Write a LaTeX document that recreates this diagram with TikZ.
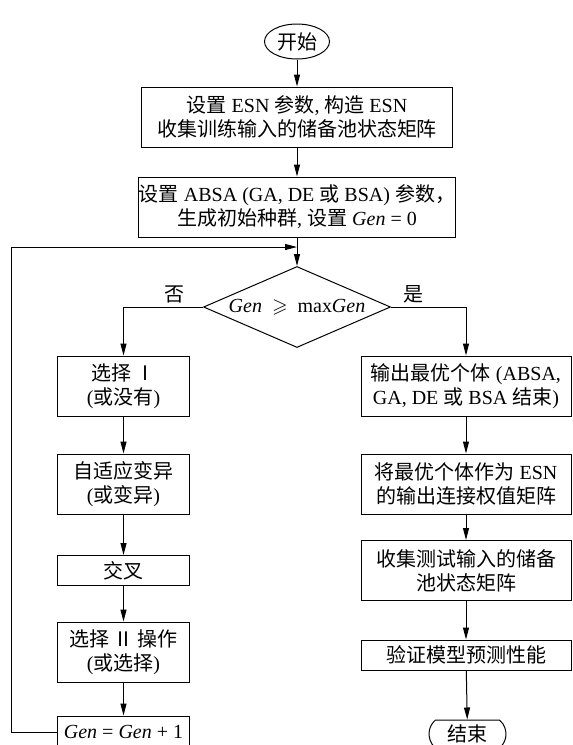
\documentclass[tikz,border=0pt]{standalone}
\usepackage{amssymb}
\usepackage{fontspec}
\setmainfont{Liberation Serif}
\newfontfamily\cjk{Noto Sans CJK SC}
\newcommand{\zh}[1]{{\cjk #1}}
\usetikzlibrary{shapes.geometric}
\usetikzlibrary{shapes.misc}
\usetikzlibrary{arrows.meta}

\begin{document}
\begin{tikzpicture}[x=1pt,y=-1pt,line width=1pt,
  >={Triangle[length=12pt,width=6pt]},
  every node/.style={font=\fontsize{20}{24}\selectfont,align=center,inner sep=0pt},
  box/.style={draw,rectangle,minimum height=60pt},
  mainbox/.style={box,minimum width=311pt},
  leftbox/.style={box,minimum width=132pt},
  rightbox/.style={box,minimum width=210pt},
  thinbox/.style={minimum height=30pt}]
  \useasboundingbox (0,0) rectangle (573,745);
  \node[draw,ellipse,minimum width=65pt,minimum height=35pt] (start) at (297,41.5) {\zh{开始}};
  \node[mainbox] (esn) at (297,117) {\zh{设置} ESN \zh{参数}, \zh{构造} ESN\\\zh{收集训练输入的储备池状态矩阵}};
  \node[mainbox] (absa) at (297,207) {\zh{设置} ABSA (GA, DE \zh{或} BSA) \zh{参数，}\\\zh{生成初始种群}, \zh{设置} \textit{Gen} = 0};
  \node[draw,diamond,aspect=2.3,minimum width=187pt,minimum height=81pt] (cond) at (297,307)
    {\textit{Gen}~~$\geqslant$~~max\textit{Gen}};
  \node[leftbox] (sel1) at (123.5,386) {\zh{选择 Ⅰ}\\(\zh{或没有})};
  \node[leftbox] (mut) at (123.5,484) {\zh{自适应变异}\\(\zh{或变异})};
  \node[leftbox,thinbox] (cross) at (123.5,570.5) {\zh{交叉}};
  \node[leftbox] (sel2) at (123.5,652) {\zh{选择 Ⅱ 操作}\\(\zh{或选择})};
  \node[leftbox,minimum height=32pt] (gen) at (123.5,732) {\textit{Gen} = \textit{Gen} + 1};
  \node[rightbox] (best) at (466,386) {\zh{输出最优个体} (ABSA,\\GA, DE \zh{或} BSA \zh{结束})};
  \node[rightbox] (weight) at (466,484) {\zh{将最优个体作为} ESN\\\zh{的输出连接权值矩阵}};
  \node[rightbox] (test) at (466,570.5) {\zh{收集测试输入的储备}\\\zh{池状态矩阵}};
  \node[rightbox,thinbox] (eval) at (466,655) {\zh{验证模型预测性能}};
  \node[draw,rounded rectangle,rounded rectangle arc length=100,minimum width=77pt,minimum height=28pt] (stop) at (467.5,734) {\zh{结束}};
  \coordinate (back) at (11,247);
  \coordinate (merge) at (297,247);
  \draw[->] (start) -- (esn);
  \draw[->] (esn) -- (absa);
  \draw[->] (absa) -- (cond);
  \draw[->] (cond.west) -| node[above=3pt,pos=.18]{\zh{否}} (sel1);
  \draw[->] (cond.east) -| node[above=3pt,pos=.15]{\zh{是}} (best);
  \draw[->] (sel1) -- (mut);
  \draw[->] (mut) -- (cross);
  \draw[->] (cross) -- (sel2);
  \draw[->] (sel2) -- (gen);
  \draw[->] (gen) -| (back) -- (merge);
  \draw[->] (best) -- (weight);
  \draw[->] (weight) -- (test);
  \draw[->] (test) -- (eval);
  \draw[->] (eval) -- (stop);
\end{tikzpicture}
\end{document}
